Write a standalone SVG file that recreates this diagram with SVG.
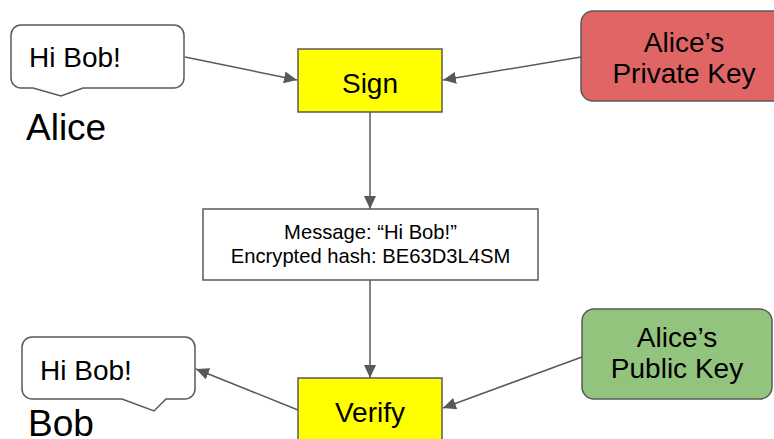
<svg xmlns="http://www.w3.org/2000/svg" width="774" height="439" viewBox="0 0 774 439">
  <style>
    .lbl { font-family: "Liberation Sans", Arial, sans-serif; fill: #000; }
    .big { font-size: 28px; }
    .name { font-size: 37px; }
    .small { font-size: 20.2px; }
    .mid { text-anchor: middle; }
    .bubble { fill: #fff; stroke: #595959; stroke-width: 1.5; }
    .op { fill: #ffff00; stroke: #595959; stroke-width: 1.5; }
    .msg { fill: #fff; stroke: #595959; stroke-width: 1.5; }
    .priv { fill: #e06666; stroke: #595959; stroke-width: 1.5; }
    .pub { fill: #93c47d; stroke: #595959; stroke-width: 1.5; }
    .edge { stroke: #595959; stroke-width: 1.5; fill: none; marker-end: url(#arrow); }
  </style>
  <defs>
    <marker id="arrow" markerUnits="userSpaceOnUse" markerWidth="14" markerHeight="12" refX="13" refY="6" orient="auto">
      <path d="M0,0 L13,6 L0,12 Z" fill="#595959"/>
    </marker>
  </defs>

  <rect width="774" height="439" fill="#fff"/>

  <!-- connectors -->
  <g id="connectors">
    <line class="edge" x1="185" y1="57" x2="297" y2="80"/>
    <line class="edge" x1="581" y1="57" x2="443" y2="80"/>
    <line class="edge" x1="370" y1="112" x2="370" y2="209"/>
    <line class="edge" x1="370" y1="280" x2="370" y2="378"/>
    <line class="edge" x1="582" y1="357" x2="443" y2="408"/>
    <line class="edge" x1="298" y1="410" x2="196" y2="369"/>
  </g>

  <!-- Alice speech bubble -->
  <g id="alice">
    <path class="bubble" d="M21,25 H174 A10,10 0 0 1 184,35 V78 A10,10 0 0 1 174,88 H83 L61,96 L33,88 H21 A10,10 0 0 1 11,78 V35 A10,10 0 0 1 21,25 Z"/>
    <text class="lbl big" x="29" y="67">Hi Bob!</text>
    <text class="lbl name" x="26" y="140">Alice</text>
  </g>

  <!-- Sign step -->
  <g id="sign">
    <rect class="op" x="298" y="49" width="144" height="63"/>
    <text class="lbl big mid" x="370" y="93">Sign</text>
  </g>

  <!-- Private key -->
  <g id="private-key">
    <rect class="priv" x="581" y="11" width="210" height="90" rx="12" ry="12"/>
    <text class="lbl big mid" x="684" y="52">Alice’s</text>
    <text class="lbl big mid" x="684" y="83">Private Key</text>
  </g>

  <!-- Signed message -->
  <g id="message">
    <rect class="msg" x="203" y="209" width="335" height="71"/>
    <text class="lbl small mid" x="370.5" y="239">Message: “Hi Bob!”</text>
    <text class="lbl small mid" x="370.5" y="263">Encrypted hash: BE63D3L4SM</text>
  </g>

  <!-- Public key -->
  <g id="public-key">
    <rect class="pub" x="582" y="309" width="190" height="90" rx="12" ry="12"/>
    <text class="lbl big mid" x="677" y="347">Alice’s</text>
    <text class="lbl big mid" x="677" y="378">Public Key</text>
  </g>

  <!-- Verify step -->
  <g id="verify">
    <rect class="op" x="298" y="378" width="144" height="66"/>
    <text class="lbl big mid" x="370" y="422">Verify</text>
  </g>

  <!-- Bob speech bubble -->
  <g id="bob">
    <path class="bubble" d="M32,337 H185 A10,10 0 0 1 195,347 V389 A10,10 0 0 1 185,399 H166 L154,411 L122,399 H32 A10,10 0 0 1 22,389 V347 A10,10 0 0 1 32,337 Z"/>
    <text class="lbl big" x="40" y="380">Hi Bob!</text>
    <text class="lbl name" x="28" y="436">Bob</text>
  </g>
</svg>
